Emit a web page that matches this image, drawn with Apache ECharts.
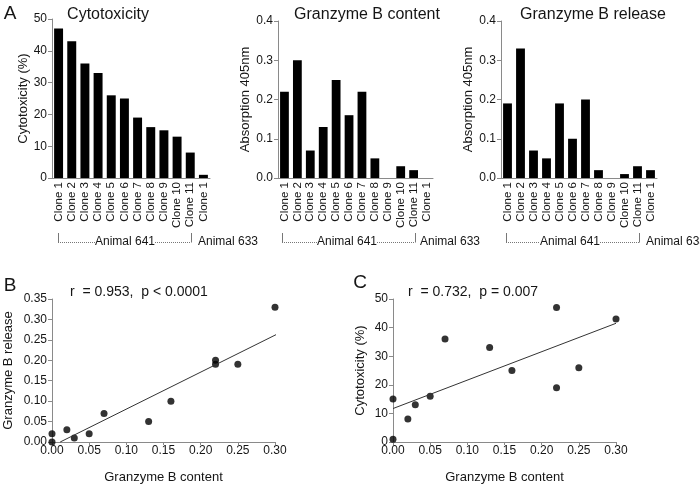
<!DOCTYPE html>
<html><head><meta charset="utf-8">
<script src="https://cdn.jsdelivr.net/npm/echarts@6/dist/echarts.min.js"></script>
<style>html,body{margin:0;padding:0;background:#fff}#c{width:700px;height:485px}</style>
</head><body><div id="c"></div>
<script>
const categories = ['Clone 1','Clone 2','Clone 3','Clone 4','Clone 5','Clone 6','Clone 7','Clone 8','Clone 9','Clone 10','Clone 11','Clone 1'];
const cytotoxicity = [47,43,36,33,26,25,19,16,15,13,8,1];
const gzbContent = [0.22,0.30,0.07,0.13,0.25,0.16,0.22,0.05,0,0.03,0.02,0];
const gzbRelease = [0.19,0.33,0.07,0.05,0.19,0.10,0.20,0.02,0,0.01,0.03,0.02];
const fitB = [[0.011,0],[0.305,0.266]];
const fitC = [[0,11.7],[0.3,41.5]];
const groupLabels = ['Animal 641','Animal 633'];
const panelTitles = ['Cytotoxicity','Granzyme B content','Granzyme B release'];
const statB = 'r  = 0.953,  p < 0.0001';
const statC = 'r  = 0.732,  p = 0.007';

const FONT = '"Liberation Sans", Arial, sans-serif';
const AX = '#8a8a8a';
const TXT = '#151515';

const grids = [
  {left:52, top:19, width:158, height:159},
  {left:278, top:21, width:155, height:157},
  {left:501, top:21, width:156, height:157},
  {left:52, top:299, width:223, height:148},
  {left:393, top:299, width:223, height:148}
];

function catAxis(i){
  return {type:'category', gridIndex:i, data:categories,
    axisLine:{lineStyle:{color:AX,width:1}}, axisTick:{show:false},
    axisLabel:{rotate:90, fontSize:11.5, color:TXT, fontFamily:FONT, margin:4, interval:0}};
}
function valAxis(i, max, interval, name, nameGap, dec){
  return {type:'value', gridIndex:i, min:0, max:max, interval:interval,
    name:name, nameLocation:'middle', nameGap:nameGap, nameRotate:90,
    nameTextStyle:{fontSize:13, color:TXT, fontFamily:FONT},
    splitLine:{show:false},
    axisLine:{show:true, lineStyle:{color:AX,width:1}},
    axisTick:{show:true, length:4, lineStyle:{color:AX}},
    axisLabel:{fontSize:12, color:TXT, fontFamily:FONT, margin:5,
      formatter: v => dec ? v.toFixed(dec) : String(v)}};
}
function sxAxis(i){
  return {type:'value', gridIndex:i, min:0, max:0.30, interval:0.05,
    name:'Granzyme B content', nameLocation:'middle', nameGap:29,
    nameTextStyle:{fontSize:13, color:TXT, fontFamily:FONT},
    splitLine:{show:false},
    axisLine:{show:true, onZero:false, lineStyle:{color:AX,width:1}},
    axisTick:{show:true, length:3, lineStyle:{color:AX}},
    axisLabel:{fontSize:12, color:TXT, fontFamily:FONT, margin:3,
      formatter: v => v.toFixed(2)}};
}

const xAxis = [catAxis(0), catAxis(1), catAxis(2), sxAxis(3), sxAxis(4)];
const yAxis = [
  valAxis(0, 50, 10, 'Cytotoxicity (%)', 22, 0),
  valAxis(1, 0.4, 0.1, 'Absorption 405nm', 26, 1),
  valAxis(2, 0.4, 0.1, 'Absorption 405nm', 25, 1),
  valAxis(3, 0.35, 0.05, 'Granzyme B release', 37, 2),
  valAxis(4, 50, 10, 'Cytotoxicity (%)', 26, 0)
];

function bars(i, data){
  return {type:'bar', xAxisIndex:i, yAxisIndex:i, data:data, barCategoryGap:'32%',
    itemStyle:{color:'#000'}, silent:true};
}
const series = [
  bars(0, cytotoxicity), bars(1, gzbContent), bars(2, gzbRelease),
  {type:'scatter', xAxisIndex:3, yAxisIndex:3, symbolSize:7, itemStyle:{color:'#000'},
    data: gzbContent.map((x,k)=>[x, gzbRelease[k]]), clip:false},
  {type:'line', xAxisIndex:3, yAxisIndex:3, data:fitB, symbol:'none', clip:false,
    lineStyle:{color:'#333', width:1}},
  {type:'scatter', xAxisIndex:4, yAxisIndex:4, symbolSize:7, itemStyle:{color:'#000'},
    data: gzbContent.map((x,k)=>[x, cytotoxicity[k]]), clip:false},
  {type:'line', xAxisIndex:4, yAxisIndex:4, data:fitC, symbol:'none', clip:false,
    lineStyle:{color:'#333', width:1}}
];

// annotation graphics
const graphic = [];
function txt(x,y,s,size,align){
  graphic.push({type:'text', x:x, y:y, style:{text:s, fontSize:size, fontFamily:FONT, fill:TXT,
    textAlign:align||'center', textVerticalAlign:'middle'}});
}
txt(10, 14, 'A', 19);
txt(10, 286, 'B', 19);
txt(360, 283, 'C', 19);
txt(108, 15, panelTitles[0], 16);
txt(367, 15, panelTitles[1], 16);
txt(593, 15, panelTitles[2], 16);
txt(70, 292, statB, 14, 'left');
txt(408, 292, statC, 14, 'left');

const brackets = [[58,191,125,198],[282,415,347,420],[506,639,570,646]];
brackets.forEach(b=>{
  const [l,r,c,a] = b, y = 242;
  const seg = (x1,y1,x2,y2,dash)=>graphic.push({type:'line', shape:{x1,y1,x2,y2},
    style:{stroke:'#777', lineWidth:1, lineDash:dash||null}, silent:true});
  seg(l+0.5, 233, l+0.5, y+0.5);
  seg(r+0.5, 233, r+0.5, y+0.5);
  seg(l, y+0.5, c-30, y+0.5, [1,1]);
  seg(c+30, y+0.5, r, y+0.5, [1,1]);
  txt(c, 242, groupLabels[0], 12);
  txt(a, 242, groupLabels[1], 12, 'left');
});

const chart = echarts.init(document.getElementById('c'), null, {renderer:'canvas'});
chart.setOption({animation:false, backgroundColor:'#fff', grid:grids, xAxis, yAxis, series, graphic});
</script></body></html>
